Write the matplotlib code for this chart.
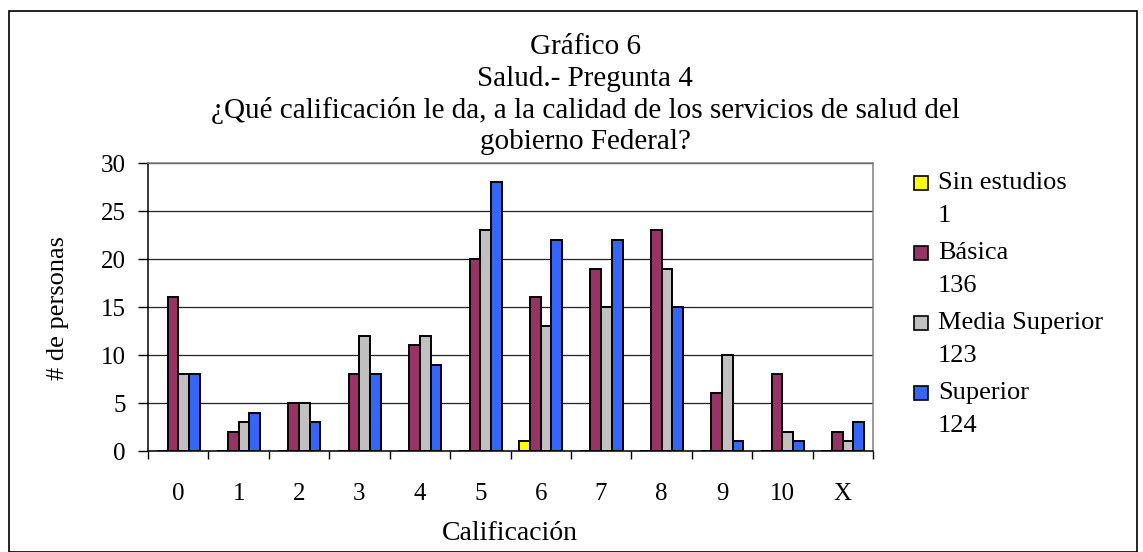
import numpy as np
import matplotlib
matplotlib.use("Agg")
import matplotlib.pyplot as plt
from matplotlib.patches import Rectangle

plt.rcParams['font.family'] = ['Liberation Serif', 'DejaVu Serif']

# Datos
categorias = ["0", "1", "2", "3", "4", "5", "6", "7", "8", "9", "10", "X"]
sin_estudios = [0, 0, 0, 0, 0, 0, 1, 0, 0, 0, 0, 0]
basica = [16, 2, 5, 8, 11, 20, 16, 19, 23, 6, 8, 2]
media_superior = [8, 3, 5, 12, 12, 23, 13, 15, 19, 10, 2, 1]
superior = [8, 4, 3, 8, 9, 28, 22, 22, 15, 1, 1, 3]

series_nombres = ["Sin estudios", "Básica", "Media Superior", "Superior"]
series_colores = ["#FFFF00", "#993366", "#C0C0C0", "#3366FF"]
titulo = ["Gráfico 6", "Salud.- Pregunta 4",
          "¿Qué calificación le da, a la calidad de los servicios de salud del",
          "gobierno Federal?"]

W, H = 1143, 552
fig = plt.figure(figsize=(W / 100, H / 100), dpi=100)

# marco exterior
fig.patches.append(Rectangle((9 / W, 0.5 / H), 1128 / W, 1 - 11.5 / H, transform=fig.transFigure,
                             fill=False, edgecolor="black", linewidth=1.2))

ax = fig.add_axes([148 / W, 1 - 451 / H, (873 - 148) / W, (451 - 163) / H])

series = [sin_estudios, basica, media_superior, superior]
x = np.arange(len(categorias)) + 0.5
w = 0.177
for i, vals in enumerate(series):
    ax.bar(x + (i - 1.5) * w, vals, width=w, color=series_colores[i],
           edgecolor="black", linewidth=1.4, zorder=3)

ax.set_xlim(0, len(categorias))
ax.set_ylim(0, 30)
ax.set_yticks(range(0, 31, 5))
ax.yaxis.grid(True, color="#222222", linewidth=0.9, zorder=0)
ax.set_axisbelow(True)

ax.set_xticks(range(len(categorias) + 1))
ax.set_xticklabels([])
ax.set_xticks(x, minor=True)
ax.set_xticklabels(categorias, minor=True)
ax.tick_params(axis="x", which="major", direction="out", length=6, width=1)
ax.tick_params(axis="x", which="minor", length=0, pad=23, labelsize=18)
ax.tick_params(axis="y", direction="out", length=7, width=1, pad=9, labelsize=18)

ax.spines["top"].set_color("#808080")
ax.spines["right"].set_color("#808080")
ax.spines["left"].set_color("black")
ax.spines["bottom"].set_color("black")
for s in ax.spines.values():
    s.set_linewidth(1.1)

# titulo
for k, linea in enumerate(titulo):
    fig.text(585 / W, 1 - (47 + 31.7 * k) / H, linea, ha="center", va="center", fontsize=21)

fig.text(58 / W, 1 - 308 / H, "# de personas", rotation=90, ha="center", va="center", fontsize=19)
fig.text(510 / W, 1 - 533 / H, "Calificación", ha="center", va="center", fontsize=20)

# leyenda
for i, nombre in enumerate(series_nombres):
    y = 183 + 70 * i
    fig.patches.append(Rectangle((914 / W, 1 - (y + 7) / H), 14 / W, 14 / H, transform=fig.transFigure,
                                 facecolor=series_colores[i], edgecolor="black", linewidth=1.2))
    fig.text(938 / W, 1 - y / H, nombre, ha="left", va="center", fontsize=19)
    fig.text(938 / W, 1 - (y + 33) / H, str(sum(series[i])), ha="left", va="center", fontsize=19)

fig.savefig("out.png", dpi=100)
